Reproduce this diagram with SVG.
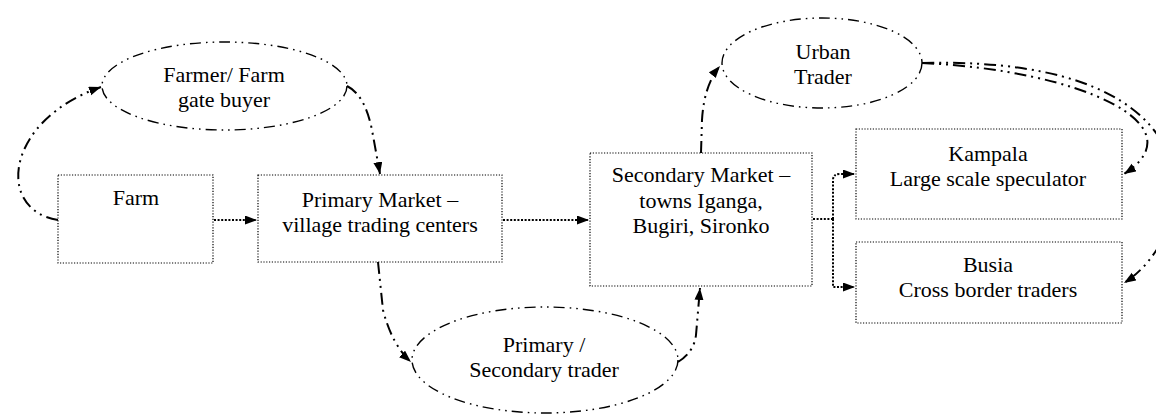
<svg xmlns="http://www.w3.org/2000/svg" width="1156" height="415" viewBox="0 0 1156 415">
<defs>
<marker id="ah" markerUnits="userSpaceOnUse" markerWidth="13" markerHeight="10" refX="12" refY="4.5" orient="auto" viewBox="0 0 13 10">
<path d="M0,0 L12,4.5 L0,9 z" fill="#000"/>
</marker>
</defs>
<style>
.box{fill:#fff;stroke:#000;stroke-width:1.2;stroke-dasharray:1.2 1.6}
.ell{fill:#fff;stroke:#000;stroke-width:1.4;stroke-dasharray:11 5 1.6 5 1.6 5}
.dd{fill:none;stroke:#000;stroke-width:2;stroke-dasharray:12 5 2 5 2 5;marker-end:url(#ah)}
.dot{fill:none;stroke:#000;stroke-width:2;stroke-dasharray:2 1.6;marker-end:url(#ah)}
.dotn{fill:none;stroke:#000;stroke-width:2;stroke-dasharray:2 1.6}
text{font-family:"Liberation Serif","Times New Roman",serif;font-size:22px;fill:#000;text-anchor:middle}
</style>
<rect width="1156" height="415" fill="#fff"/>
<g id="connectors">
<path class="dd" d="M58,220 C-5,210 5,120 101,87"/>
<path class="dd" d="M347,86 Q365,95 372,130 L380,174"/>
<path class="dot" d="M214,220 L257,220"/>
<path class="dot" d="M503,220 L589,220"/>
<path class="dd" d="M378,262 L383,310 Q392,345 411,362"/>
<path class="dd" d="M678,362 Q694,352 696,335 L700,288"/>
<path class="dd" d="M701,153 L702,120 Q704,85 720,66"/>
<path class="dd" d="M922,63 C1080,70 1200,125 1124,174"/>
<path class="dd" d="M922,63 C1230,55 1200,235 1124,283"/>
<path class="dotn" d="M813,219 L833,219"/>
<path class="dot" d="M833,219 L833,180 Q833,174 840,174 L855,174"/>
<path class="dot" d="M833,219 L833,287 L855,287"/>
</g>
<g id="farm">
<rect class="box" x="58" y="175" width="155" height="88"/>
<text x="136" y="205">Farm</text>
</g>
<g id="primary-market">
<rect class="box" x="258" y="175" width="244" height="87"/>
<text x="380" y="207">Primary Market –</text>
<text x="380" y="232">village trading centers</text>
</g>
<g id="secondary-market">
<rect class="box" x="590" y="153" width="222" height="133"/>
<text x="701" y="182">Secondary Market –</text>
<text x="701" y="208">towns Iganga,</text>
<text x="701" y="233">Bugiri, Sironko</text>
</g>
<g id="kampala">
<rect class="box" x="856" y="129" width="266" height="90"/>
<text x="988" y="161">Kampala</text>
<text x="988" y="186">Large scale speculator</text>
</g>
<g id="busia">
<rect class="box" x="856" y="242" width="266" height="81"/>
<text x="988" y="272">Busia</text>
<text x="988" y="297">Cross border traders</text>
</g>
<g id="farmer-gate-buyer">
<ellipse class="ell" cx="224.5" cy="86" rx="122.5" ry="44"/>
<text x="224" y="82">Farmer/ Farm</text>
<text x="224" y="107">gate buyer</text>
</g>
<g id="urban-trader">
<ellipse class="ell" cx="822" cy="63" rx="100" ry="45"/>
<text x="823" y="59">Urban</text>
<text x="823" y="84">Trader</text>
</g>
<g id="primary-secondary-trader">
<ellipse class="ell" cx="545" cy="360" rx="133" ry="53"/>
<text x="544" y="352">Primary /</text>
<text x="544" y="377">Secondary trader</text>
</g>
</svg>
